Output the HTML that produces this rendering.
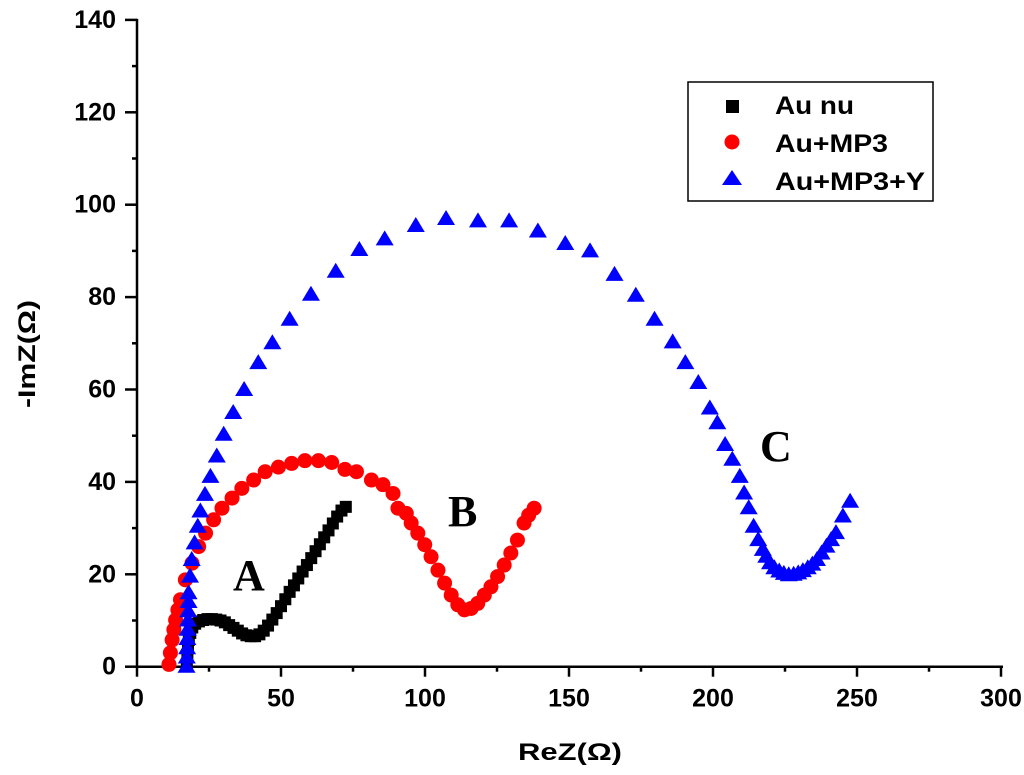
<!DOCTYPE html>
<html><head><meta charset="utf-8"><style>
body{margin:0;background:#fff}
svg{display:block}
text{font-family:"Liberation Sans",Arial,sans-serif;font-weight:bold;fill:#000}
.lt{font-family:"Liberation Serif","Times New Roman",serif;font-size:44px}
</style></head><body>
<svg id="chart" width="1024" height="775" xmlns="http://www.w3.org/2000/svg">
<g id="axes"></g>
<g id="marks"></g>
<text class="lt" x="233" y="590">A</text>
<text class="lt" x="448" y="526">B</text>
<text class="lt" x="760" y="461">C</text>
<text x="518" y="760" font-size="24" textLength="104" lengthAdjust="spacingAndGlyphs">ReZ(Ω)</text>
<text transform="translate(35,408) rotate(-90)" font-size="24" textLength="108" lengthAdjust="spacingAndGlyphs">-ImZ(Ω)</text>
<g>
<rect x="688" y="82" width="245" height="119" fill="#fff" stroke="#000" stroke-width="1.5"/>
<rect x="726" y="100" width="13" height="13" fill="#000"/>
<text x="775" y="114" font-size="25" textLength="79" lengthAdjust="spacingAndGlyphs">Au nu</text>
<circle cx="732" cy="142" r="7.5" fill="#f00"/>
<text x="775" y="152" font-size="25" textLength="113" lengthAdjust="spacingAndGlyphs">Au+MP3</text>
<polygon points="732,170 742,185 722,185" fill="#00f"/>
<text x="775" y="190" font-size="25" textLength="150" lengthAdjust="spacingAndGlyphs">Au+MP3+Y</text>
</g>
</svg>
<script>
const xTicks=[0,50,100,150,200,250,300];
const yTicks=[0,20,40,60,80,100,120,140];
const seriesA_x=[17.3,17.5,17.7,18.0,18.5,19.2,20.2,21.5,23,24.5,26,27.5,29,30.5,32,33.5,35,36.5,38,39.5,41,42.5,44,45.5,47,48.5,50,51.5,53,54.5,56,57.5,59,60.5,62,63.5,65,66.5,68,69.5,71,72.5];
const seriesA_y=[0.5,2,4,5.8,7.3,8.5,9.3,9.8,10.1,10.3,10.3,10.2,10,9.6,9,8.4,7.8,7.2,6.8,6.6,6.6,7,7.8,8.9,10.2,11.6,13.1,14.6,16.2,17.6,19.1,20.6,22,23.5,25,26.5,28,29.5,31,32.5,33.8,34.6];
const seriesB_x=[11.1,11.6,12.2,12.8,13.4,14.2,15.1,16.8,19.1,21.4,23.8,26.6,29.5,33.0,36.4,40.5,44.5,49.1,53.7,58.3,63.0,67.6,72.2,76.2,81.4,85.4,88.9,90.6,93.5,95.2,97.5,99.9,102.1,104.5,106.8,109.1,111.4,113.7,116.0,118.3,120.6,122.9,125.2,127.5,129.8,132.1,134.4,136.0,137.9];
const seriesB_y=[0.5,3,5.8,8,10.1,12.3,14.5,18.8,22.4,26.0,28.9,31.8,34.3,36.5,38.6,40.4,42.2,43.2,44.0,44.6,44.6,44.2,42.7,42.2,40.4,39.4,37.5,34.3,33.2,31.1,28.9,26.4,23.8,20.9,18.1,15.5,13.4,12.3,12.6,13.7,15.5,17.3,19.5,22.0,24.6,27.4,31.1,32.8,34.3];
const seriesC_x=[17.2,17.3,17.4,17.5,17.6,17.7,17.8,17.9,17.9,18.4,19.0,20.0,21.1,22.0,23.6,25.5,27.7,30.1,33.4,37.2,42.1,47.0,53.0,60.4,69.0,77.2,86.0,96.8,107.3,118.4,129.2,139.2,148.7,157.3,165.8,173.2,179.7,186.0,190.4,194.9,198.9,201.5,204.2,206.7,209.3,210.8,212.4,214.1,215.7,217.3,218.5,219.8,221.3,223.0,224.6,226.3,228,229.6,231.2,232.9,234.5,236.1,237.7,239.4,241,242.7,245.1,247.6];
const seriesC_y=[0,2,4,6,8,10,12,14,15.9,19.5,23.1,26.7,30.3,33.6,37.2,41.1,45.5,50.2,54.9,59.9,65.7,70.0,75.1,80.5,85.5,90.2,92.5,95.4,96.9,96.4,96.4,94.2,91.5,89.9,84.8,80.3,75.1,70.2,65.7,61.4,55.9,52.7,48.0,44.8,41.1,37.5,34.3,30.3,27.4,25.3,23.8,22.4,21.3,20.6,20.1,19.8,19.9,20.2,20.7,21.3,22.1,23.1,24.5,26.0,27.4,28.9,32.5,35.7];
const NS='http://www.w3.org/2000/svg';
const X0=137,XS=2.88,Y0=666.7,YS=4.62;
function sx(v){return X0+v*XS;}
function sy(v){return Y0-v*YS;}
function mk(tag,attrs,parent){const e=document.createElementNS(NS,tag);for(const k in attrs)e.setAttribute(k,attrs[k]);parent.appendChild(e);return e;}
const axes=document.getElementById('axes'),marks=document.getElementById('marks');
let l=mk('line',{x1:X0,y1:Y0,x2:sx(300)+2,y2:Y0,stroke:'#000','stroke-width':2.5},axes);


l=mk('line',{x1:X0,y1:Y0+1,x2:X0,y2:sy(140)-1,stroke:'#000','stroke-width':2.5},axes);


xTicks.forEach((t,i)=>{
 mk('line',{x1:sx(t),y1:Y0,x2:sx(t),y2:Y0+10,stroke:'#000','stroke-width':2.5},axes);
 if(i<xTicks.length-1){const m=(t+xTicks[i+1])/2;mk('line',{x1:sx(m),y1:Y0,x2:sx(m),y2:Y0+5,stroke:'#000','stroke-width':2.5},axes);}
 const tx=mk('text',{x:sx(t),y:Y0+40,'font-size':25,'text-anchor':'middle'},axes);tx.textContent=t;
 
 
});
yTicks.forEach((t,i)=>{
 mk('line',{x1:X0,y1:sy(t),x2:X0-12,y2:sy(t),stroke:'#000','stroke-width':2.5},axes);
 if(i<yTicks.length-1){const m=(t+yTicks[i+1])/2;mk('line',{x1:X0,y1:sy(m),x2:X0-5,y2:sy(m),stroke:'#000','stroke-width':2.5},axes);}
 const tx=mk('text',{x:116,y:sy(t)+8,'font-size':25,'text-anchor':'end'},axes);tx.textContent=t;
 
 
});
seriesA_x.forEach((v,i)=>{const e=mk('rect',{x:sx(v)-6,y:sy(seriesA_y[i])-6,width:12,height:12,fill:'#000'},marks);
 
 });
seriesB_x.forEach((v,i)=>{const e=mk('circle',{cx:sx(v),cy:sy(seriesB_y[i]),r:7.5,fill:'#f00'},marks);
 
 });
seriesC_x.forEach((v,i)=>{const cx=sx(v),cy=sy(seriesC_y[i]);
 const e=mk('polygon',{points:`${cx},${cy-9} ${cx+9},${cy+6} ${cx-9},${cy+6}`,fill:'#00f'},marks);
 
 });
</script>
</body></html>
